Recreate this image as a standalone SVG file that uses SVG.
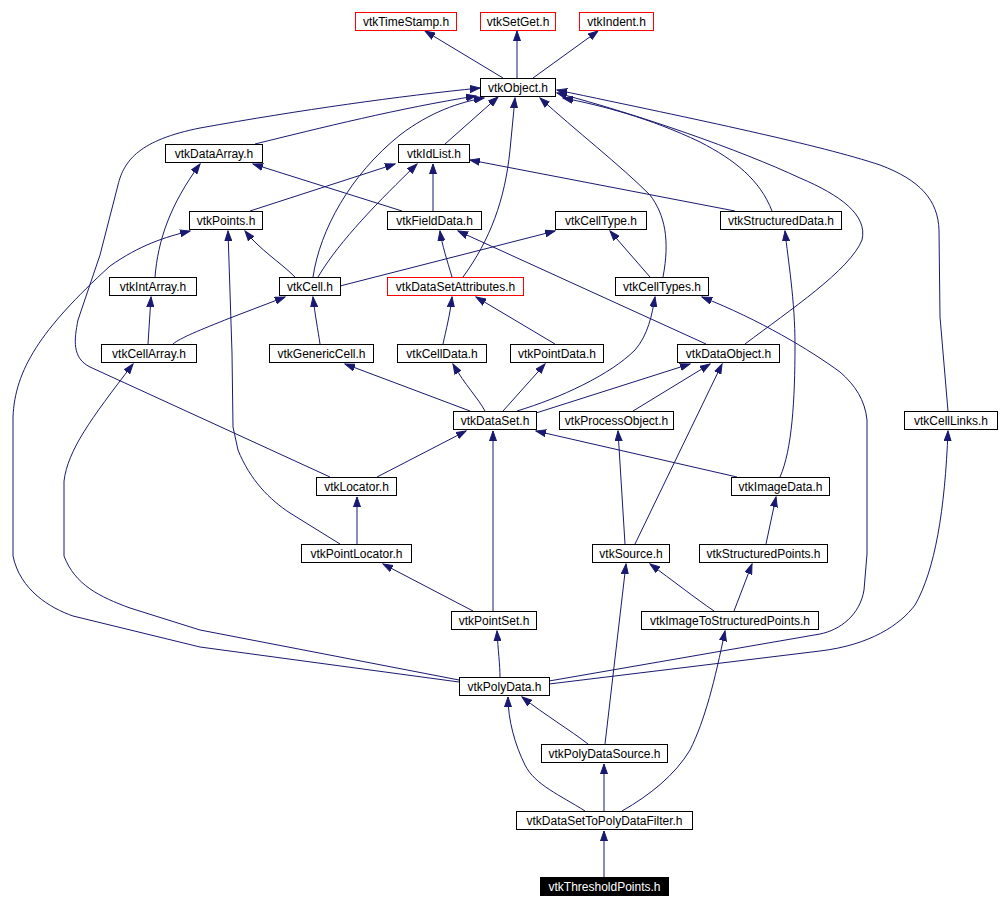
<svg xmlns="http://www.w3.org/2000/svg" width="1000" height="909" viewBox="0 0 1000 909">
<style>
.n rect{fill:#fff;stroke:#000;stroke-width:1}
.n.r rect{stroke:#ff0000}
.n.b rect{fill:#000}
.n text{font-family:"Liberation Sans",Arial,sans-serif;font-size:12px;text-anchor:middle;fill:#000}
.n.b text{fill:#fff}
#edges path{fill:none;stroke:#191970;stroke-width:1;marker-end:url(#ah)}
</style>
<defs>
<marker id="ah" markerUnits="userSpaceOnUse" markerWidth="11" markerHeight="8" refX="10" refY="4" orient="auto">
<path d="M0,0.5 L10,4 L0,7.5 z" fill="#191970" stroke="#191970" stroke-width="1"/>
</marker>
</defs>
<rect width="1000" height="909" fill="#fff"/>
<g id="edges">
<path d="M503,78 L425,31"/>
<path d="M517,78 L517,31"/>
<path d="M533,78 L598,31"/>
<path d="M255,144 C 320,128 400,108 476,96"/>
<path d="M330,477 L90,367 C 72,358 74,340 78,320 L100,255 L118,185 C 124,160 140,140 200,128 C 300,110 400,96 480,88"/>
<path d="M445,144 L498,97"/>
<path d="M313,277 C 320,230 350,175 400,135 C 430,112 460,102 484,98"/>
<path d="M463,277 C 490,240 505,200 510,150 L515,98"/>
<path d="M663,277 C 670,240 665,215 650,195 C 620,165 575,130 540,98"/>
<path d="M772,211 C 760,180 735,160 700,142 C 650,118 600,105 563,98"/>
<path d="M745,344 C 790,310 850,270 862,240 C 868,215 840,195 800,178 C 740,150 640,115 557,93"/>
<path d="M948,411 L940,317 L939,230 C 938,200 920,180 880,165 C 820,145 700,120 557,90"/>
<path d="M735,211 L470,160"/>
<path d="M402,211 L253,164"/>
<path d="M433,211 L433,164"/>
<path d="M250,211 L395,164"/>
<path d="M318,277 C 340,240 380,200 417,164"/>
<path d="M155,277 C 158,240 170,205 200,164"/>
<path d="M295,277 C 280,262 260,250 245,231"/>
<path d="M340,286 L555,231"/>
<path d="M650,277 L610,231"/>
<path d="M452,277 C 447,260 442,245 440,231"/>
<path d="M706,344 L458,231"/>
<path d="M459,682 L200,647 L73,616 C 50,608 20,590 13,556 L13,417 C 15,370 40,330 110,266 C 140,245 165,237 190,231"/>
<path d="M340,544 L290,513 C 270,500 250,480 238,450 L233,427 L232,353 L228,231"/>
<path d="M148,344 L151,297"/>
<path d="M173,344 C 180,338 200,330 230,318 L285,297"/>
<path d="M320,344 C 318,330 315,315 313,297"/>
<path d="M443,344 C 446,330 450,315 452,297"/>
<path d="M555,344 L476,297"/>
<path d="M459,680 L200,630 L130,608 C 100,597 75,585 64,556 L64,481 C 68,450 90,420 133,364"/>
<path d="M470,411 L345,364"/>
<path d="M485,411 C 478,398 465,385 453,364"/>
<path d="M503,411 L545,364"/>
<path d="M517,411 C 560,398 610,375 635,350 C 648,335 652,315 655,297"/>
<path d="M536,413 L690,364"/>
<path d="M633,411 L710,364"/>
<path d="M635,544 L722,364"/>
<path d="M625,544 L618,431"/>
<path d="M377,477 L466,431"/>
<path d="M737,477 L536,431"/>
<path d="M780,477 C 792,450 795,400 795,345 C 795,300 788,260 785,231"/>
<path d="M357,544 L357,497"/>
<path d="M493,611 L493,431"/>
<path d="M473,611 L383,564"/>
<path d="M766,544 L776,497"/>
<path d="M714,611 C 695,598 672,580 650,564"/>
<path d="M734,611 L752,564"/>
<path d="M500,677 C 500,665 498,650 497,631"/>
<path d="M549,681 L820,634 C 840,630 860,615 864,590 L867,554 L867,420 C 865,400 855,385 840,372 C 810,350 760,320 702,297"/>
<path d="M549,684 L820,651 C 870,645 900,625 915,605 C 935,570 945,510 948,431"/>
<path d="M588,744 C 570,730 545,715 522,697"/>
<path d="M605,744 L626,564"/>
<path d="M585,811 C 560,795 535,785 525,765 C 515,745 508,720 508,697"/>
<path d="M604,811 L604,764"/>
<path d="M622,811 C 650,795 675,775 690,750 C 705,720 715,680 725,631"/>
<path d="M604,877 L604,831"/>
</g>
<g id="vtkTimeStamp" class="n r"><rect x="355.5" y="12.5" width="101" height="18" stroke="#ff0000"/><text x="406" y="26">vtkTimeStamp.h</text></g>
<g id="vtkSetGet" class="n r"><rect x="480.5" y="12.5" width="75" height="18" stroke="#ff0000"/><text x="518" y="26">vtkSetGet.h</text></g>
<g id="vtkIndent" class="n r"><rect x="579.5" y="12.5" width="74" height="18" stroke="#ff0000"/><text x="616.5" y="26">vtkIndent.h</text></g>
<g id="vtkObject" class="n"><rect x="480.5" y="78.5" width="75" height="18"/><text x="518" y="92">vtkObject.h</text></g>
<g id="vtkDataArray" class="n"><rect x="165.5" y="144.5" width="97" height="18"/><text x="214" y="158">vtkDataArray.h</text></g>
<g id="vtkIdList" class="n"><rect x="398.5" y="144.5" width="71" height="18"/><text x="434" y="158">vtkIdList.h</text></g>
<g id="vtkPoints" class="n"><rect x="189.5" y="211.5" width="73" height="18"/><text x="226" y="225">vtkPoints.h</text></g>
<g id="vtkFieldData" class="n"><rect x="387.5" y="211.5" width="94" height="18"/><text x="434.5" y="225">vtkFieldData.h</text></g>
<g id="vtkCellType" class="n"><rect x="555.5" y="211.5" width="91" height="18"/><text x="601" y="225">vtkCellType.h</text></g>
<g id="vtkStructuredData" class="n"><rect x="720.5" y="211.5" width="121" height="18"/><text x="781" y="225">vtkStructuredData.h</text></g>
<g id="vtkIntArray" class="n"><rect x="109.5" y="277.5" width="87" height="18"/><text x="153" y="291">vtkIntArray.h</text></g>
<g id="vtkCell" class="n"><rect x="279.5" y="277.5" width="61" height="18"/><text x="310" y="291">vtkCell.h</text></g>
<g id="vtkDataSetAttributes" class="n r"><rect x="387.5" y="277.5" width="136" height="18" stroke="#ff0000"/><text x="455.5" y="291">vtkDataSetAttributes.h</text></g>
<g id="vtkCellTypes" class="n"><rect x="615.5" y="277.5" width="93" height="18"/><text x="662" y="291">vtkCellTypes.h</text></g>
<g id="vtkCellArray" class="n"><rect x="101.5" y="344.5" width="95" height="18"/><text x="149" y="358">vtkCellArray.h</text></g>
<g id="vtkGenericCell" class="n"><rect x="269.5" y="344.5" width="104" height="18"/><text x="321.5" y="358">vtkGenericCell.h</text></g>
<g id="vtkCellData" class="n"><rect x="397.5" y="344.5" width="89" height="18"/><text x="442" y="358">vtkCellData.h</text></g>
<g id="vtkPointData" class="n"><rect x="510.5" y="344.5" width="93" height="18"/><text x="557" y="358">vtkPointData.h</text></g>
<g id="vtkDataObject" class="n"><rect x="677.5" y="344.5" width="102" height="18"/><text x="728.5" y="358">vtkDataObject.h</text></g>
<g id="vtkDataSet" class="n"><rect x="453.5" y="411.5" width="83" height="18"/><text x="495" y="425">vtkDataSet.h</text></g>
<g id="vtkProcessObject" class="n"><rect x="559.5" y="411.5" width="114" height="18"/><text x="616.5" y="425">vtkProcessObject.h</text></g>
<g id="vtkCellLinks" class="n"><rect x="904.5" y="411.5" width="93" height="18"/><text x="951" y="425">vtkCellLinks.h</text></g>
<g id="vtkLocator" class="n"><rect x="316.5" y="477.5" width="80" height="18"/><text x="356.5" y="491">vtkLocator.h</text></g>
<g id="vtkImageData" class="n"><rect x="731.5" y="477.5" width="98" height="18"/><text x="780.5" y="491">vtkImageData.h</text></g>
<g id="vtkPointLocator" class="n"><rect x="301.5" y="544.5" width="110" height="18"/><text x="356.5" y="558">vtkPointLocator.h</text></g>
<g id="vtkSource" class="n"><rect x="592.5" y="544.5" width="77" height="18"/><text x="631" y="558">vtkSource.h</text></g>
<g id="vtkStructuredPoints" class="n"><rect x="699.5" y="544.5" width="128" height="18"/><text x="763.5" y="558">vtkStructuredPoints.h</text></g>
<g id="vtkPointSet" class="n"><rect x="451.5" y="611.5" width="85" height="18"/><text x="494" y="625">vtkPointSet.h</text></g>
<g id="vtkImageToStructuredPoints" class="n"><rect x="641.5" y="611.5" width="177" height="18"/><text x="730" y="625">vtkImageToStructuredPoints.h</text></g>
<g id="vtkPolyData" class="n"><rect x="459.5" y="677.5" width="90" height="18"/><text x="504.5" y="691">vtkPolyData.h</text></g>
<g id="vtkPolyDataSource" class="n"><rect x="541.5" y="744.5" width="126" height="18"/><text x="604.5" y="758">vtkPolyDataSource.h</text></g>
<g id="vtkDataSetToPolyDataFilter" class="n"><rect x="516.5" y="811.5" width="176" height="18"/><text x="604.5" y="825">vtkDataSetToPolyDataFilter.h</text></g>
<g id="vtkThresholdPoints" class="n b"><rect x="540.5" y="877.5" width="128" height="18"/><text x="604.5" y="891">vtkThresholdPoints.h</text></g>
</svg>
